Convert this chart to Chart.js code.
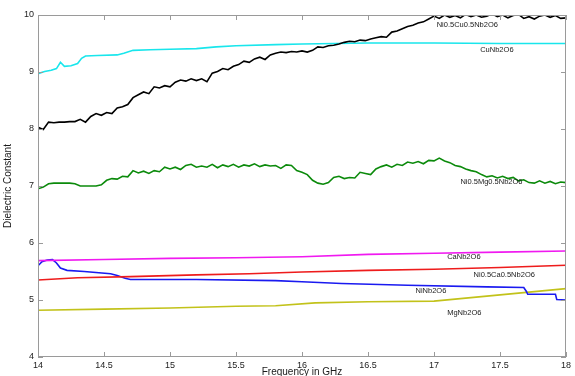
<!DOCTYPE html>
<html>
<head>
<meta charset="utf-8">
<script src="https://cdn.jsdelivr.net/npm/chart.js@4.4.1/dist/chart.umd.min.js"></script>
<style>
  html, body { margin: 0; padding: 0; background: #fff; }
  #wrap { width: 575px; height: 376px; position: relative; }
</style>
</head>
<body>
<div id="wrap"><canvas id="dielectricChart"></canvas></div>
<script>
// 频率轴刻度
const xTicks = [14, 14.5, 15, 15.5, 16, 16.5, 17, 17.5, 18];
const yTicks = [4, 5, 6, 7, 8, 9, 10];

// Ni0.5Cu0.5Nb2O6 (black), sampled every 0.04 GHz from 14 to 18
const niCuValues = [
  8.03, 7.99, 8.12, 8.11, 8.12, 8.12, 8.13, 8.13, 8.17, 8.12,
  8.22, 8.27, 8.24, 8.29, 8.27, 8.37, 8.39, 8.43, 8.55, 8.60,
  8.65, 8.62, 8.74, 8.72, 8.76, 8.74, 8.82, 8.86, 8.84, 8.88,
  8.85, 8.88, 8.83, 8.98, 9.01, 9.06, 9.04, 9.10, 9.13, 9.19,
  9.17, 9.23, 9.26, 9.22, 9.30, 9.33, 9.35, 9.34, 9.36, 9.35,
  9.37, 9.35, 9.38, 9.44, 9.43, 9.46, 9.47, 9.49, 9.52, 9.54,
  9.53, 9.56, 9.55, 9.58, 9.60, 9.62, 9.61, 9.70, 9.72, 9.76,
  9.80, 9.82, 9.86, 9.88, 9.93, 9.98, 9.94, 10.0, 9.96, 9.99,
  9.95, 10.01, 9.97, 10.0, 9.96, 9.98, 10.02, 9.97, 10.0, 9.95,
  9.99, 10.01, 9.94, 9.97, 9.93, 9.98, 10.0, 9.96, 9.99, 9.94,
  9.95
];

// Ni0.5Mg0.5Nb2O6 (green), same 0.04 GHz sweep
const niMgValues = [
  6.95, 6.98, 7.04, 7.05, 7.05, 7.05, 7.05, 7.04, 7.00, 7.00,
  7.00, 7.00, 7.02, 7.10, 7.13, 7.12, 7.17, 7.16, 7.27, 7.23,
  7.26, 7.22, 7.27, 7.25, 7.33, 7.30, 7.33, 7.29, 7.36, 7.38,
  7.33, 7.35, 7.33, 7.38, 7.32, 7.37, 7.34, 7.38, 7.33, 7.37,
  7.35, 7.39, 7.34, 7.37, 7.35, 7.36, 7.31, 7.37, 7.36, 7.27,
  7.24, 7.20, 7.10, 7.05, 7.03, 7.06, 7.15, 7.17, 7.13, 7.15,
  7.14, 7.24, 7.22, 7.20, 7.30, 7.34, 7.37, 7.33, 7.38, 7.36,
  7.42, 7.40, 7.43, 7.39, 7.45, 7.44, 7.49, 7.44, 7.41, 7.36,
  7.34, 7.30, 7.27, 7.25, 7.20, 7.16, 7.18, 7.14, 7.17, 7.13,
  7.15, 7.09, 7.11, 7.06, 7.05, 7.09, 7.05, 7.08, 7.04, 7.07,
  7.06
];

// CuNb2O6 (cyan)
const cuFreq = [14.00, 14.05, 14.10, 14.14, 14.17, 14.20, 14.25, 14.30, 14.33, 14.36, 14.45, 14.60, 14.65, 14.72, 14.85, 15.00, 15.20, 15.35, 15.50, 15.80, 16.00, 16.50, 17.00, 17.50, 18.00];
const cuValues = [8.97, 9.01, 9.03, 9.06, 9.17, 9.10, 9.11, 9.15, 9.24, 9.28, 9.29, 9.30, 9.33, 9.38, 9.39, 9.40, 9.41, 9.44, 9.46, 9.48, 9.49, 9.51, 9.51, 9.50, 9.50];

// CaNb2O6 (magenta)
const caFreq = [14, 14.5, 15, 15.5, 16, 16.5, 17, 17.5, 18];
const caValues = [5.69, 5.71, 5.73, 5.74, 5.76, 5.80, 5.82, 5.84, 5.86];

// Ni0.5Ca0.5Nb2O6 (red)
const niCaFreq = [14, 14.3, 14.7, 15.2, 15.6, 16, 16.5, 17, 17.5, 18];
const niCaValues = [5.35, 5.39, 5.41, 5.44, 5.46, 5.49, 5.52, 5.54, 5.57, 5.61];

// NiNb2O6 (blue)
const niFreq = [14.00, 14.03, 14.07, 14.11, 14.14, 14.17, 14.22, 14.35, 14.55, 14.60, 14.66, 14.70, 15.2, 15.8, 16.0, 16.3, 16.8, 17.4, 17.68, 17.70, 17.71, 17.92, 17.93, 18.0];
const niValues = [5.60, 5.67, 5.70, 5.71, 5.65, 5.56, 5.52, 5.50, 5.46, 5.43, 5.38, 5.36, 5.36, 5.34, 5.32, 5.29, 5.26, 5.23, 5.22, 5.15, 5.10, 5.10, 5.01, 5.00];

// MgNb2O6 (olive yellow)
const mgFreq = [14, 14.5, 15, 15.5, 15.8, 16.1, 16.5, 17, 17.5, 18];
const mgValues = [4.82, 4.84, 4.86, 4.89, 4.90, 4.95, 4.97, 4.98, 5.09, 5.20];

// 曲线旁的文字标注 [text, freq, value]
const curveLabels = [
  ['Ni0.5Cu0.5Nb2O6', 17.02, 9.82],
  ['CuNb2O6', 17.35, 9.39],
  ['Ni0.5Mg0.5Nb2O6', 17.2, 7.07],
  ['CaNb2O6', 17.1, 5.75],
  ['Ni0.5Ca0.5Nb2O6', 17.3, 5.44],
  ['NiNb2O6', 16.86, 5.16],
  ['MgNb2O6', 17.1, 4.77]
];

function sweep(values) {
  // uniform frequency sweep 14..18 GHz
  const step = 4 / (values.length - 1);
  return values.map((v, i) => ({ x: 14 + i * step, y: v }));
}

function pairUp(freq, values) {
  return freq.map((f, i) => ({ x: f, y: values[i] }));
}

function series(label, points, color) {
  return {
    label: label,
    data: points,
    borderColor: color,
    backgroundColor: color,
    borderWidth: 1.6,
    pointRadius: 0,
    tension: 0,
    fill: false
  };
}

// MATLAB 风格的边框、内向刻度、轴标题和标注
const matlabFrame = {
  id: 'matlabFrame',
  afterDraw(chart) {
    const { ctx, chartArea: a, scales } = chart;
    const xs = scales.x, ys = scales.y;
    ctx.save();
    ctx.strokeStyle = '#9a9a9a';
    ctx.lineWidth = 1;
    ctx.strokeRect(a.left + 0.5, a.top + 0.5, a.right - a.left - 1, a.bottom - a.top - 1);

    ctx.beginPath();
    xTicks.forEach(t => {
      const px = Math.round(xs.getPixelForValue(t)) + 0.5;
      ctx.moveTo(px, a.bottom); ctx.lineTo(px, a.bottom - 5);
      ctx.moveTo(px, a.top); ctx.lineTo(px, a.top + 5);
    });
    yTicks.forEach(t => {
      const py = Math.round(ys.getPixelForValue(t)) + 0.5;
      ctx.moveTo(a.left, py); ctx.lineTo(a.left + 5, py);
      ctx.moveTo(a.right, py); ctx.lineTo(a.right - 5, py);
    });
    ctx.stroke();

    ctx.fillStyle = '#1a1a1a';
    ctx.font = '7.5px "Liberation Sans", Arial, sans-serif';
    ctx.textBaseline = 'middle';
    ctx.textAlign = 'left';
    curveLabels.forEach(([txt, f, v]) => {
      ctx.fillText(txt, xs.getPixelForValue(f), ys.getPixelForValue(v));
    });

    ctx.font = '10px "Liberation Sans", Arial, sans-serif';
    ctx.textAlign = 'center';
    ctx.textBaseline = 'top';
    ctx.fillText('Frequency in GHz', (a.left + a.right) / 2, 367);

    ctx.translate(8, (a.top + a.bottom) / 2);
    ctx.rotate(-Math.PI / 2);
    ctx.textBaseline = 'middle';
    ctx.fillText('Dielectric Constant', 0, 0);
    ctx.restore();
  }
};

document.addEventListener('DOMContentLoaded', function() {
  const ctx = document.getElementById('dielectricChart').getContext('2d');
  new Chart(ctx, {
    type: 'line',
    data: {
      datasets: [
        series('Ni0.5Cu0.5Nb2O6', sweep(niCuValues), '#000000'),
        series('CuNb2O6', pairUp(cuFreq, cuValues), '#19e6ec'),
        series('Ni0.5Mg0.5Nb2O6', sweep(niMgValues), '#0b8a0b'),
        series('CaNb2O6', pairUp(caFreq, caValues), '#f019f0'),
        series('Ni0.5Ca0.5Nb2O6', pairUp(niCaFreq, niCaValues), '#ee1c1c'),
        series('NiNb2O6', pairUp(niFreq, niValues), '#1a1af0'),
        series('MgNb2O6', pairUp(mgFreq, mgValues), '#c2c21a')
      ]
    },
    options: {
      responsive: true,
      maintainAspectRatio: false,
      animation: false,
      layout: { padding: { top: 15, right: 9, left: 0, bottom: 0 } },
      plugins: {
        legend: { display: false },
        tooltip: { enabled: false }
      },
      scales: {
        x: {
          type: 'linear',
          min: 14,
          max: 18,
          afterBuildTicks: s => { s.ticks = xTicks.map(v => ({ value: v })); },
          afterFit: s => { s.height = 19; },
          grid: { display: false, drawTicks: false },
          border: { display: false },
          ticks: {
            padding: 3,
            maxRotation: 0,
            color: '#222',
            font: { family: '"Liberation Sans", Arial, sans-serif', size: 9 },
            callback: v => String(v)
          }
        },
        y: {
          type: 'linear',
          min: 4,
          max: 10,
          afterBuildTicks: s => { s.ticks = yTicks.map(v => ({ value: v })); },
          afterFit: s => { s.width = 38; },
          grid: { display: false, drawTicks: false },
          border: { display: false },
          ticks: {
            padding: 4,
            color: '#222',
            font: { family: '"Liberation Sans", Arial, sans-serif', size: 9 },
            callback: v => String(v)
          }
        }
      }
    },
    plugins: [matlabFrame]
  });
});
</script>
</body>
</html>
